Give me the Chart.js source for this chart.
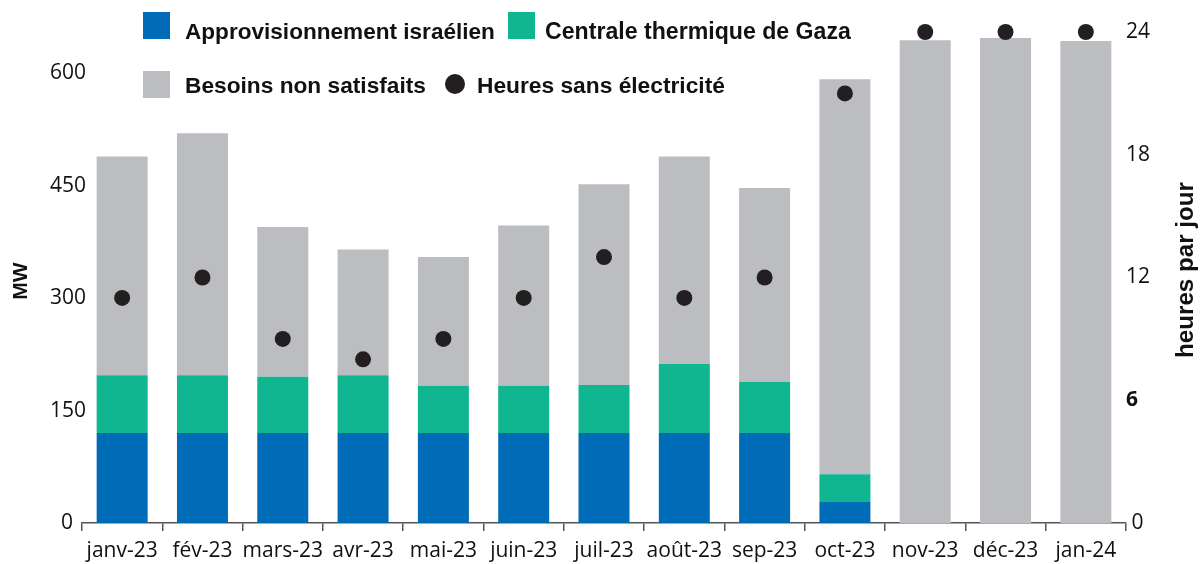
<!DOCTYPE html>
<html>
<head>
<meta charset="utf-8">
<script src="https://cdn.jsdelivr.net/npm/chart.js@4.4.1/dist/chart.umd.min.js"></script>
<style>
  html, body { margin: 0; padding: 0; background: #ffffff; }
  #wrap { width: 1200px; height: 564px; position: relative; }
</style>
</head>
<body>
<div id="wrap"><canvas id="c" width="1200" height="564"></canvas></div>
<script>
const categories = ['janv-23','fév-23','mars-23','avr-23','mai-23','juin-23','juil-23','août-23','sep-23','oct-23','nov-23','déc-23','jan-24'];
const israeliSupply = [120,120,120,120,120,120,120,120,120,28,0,0,0];
const gazaPlant = [77,77,75,77,63,63,64,92,68,37,0,0,0];
const unmetNeeds = [292,323,200,168,172,214,268,277,259,527,644,647,643];
const hoursWithoutPower = [11,12,9,8,9,11,13,11,12,21,24,24,24];
const mwTicks = [0,150,300,450,600];
const hourTicks = [0,6,12,18,24];
const seriesNames = ['Approvisionnement israélien','Centrale thermique de Gaza','Besoins non satisfaits','Heures sans électricité'];
const leftTitle = 'MW';
const rightTitle = 'heures par jour';

const BLUE = '#006bb6', TEAL = '#0fb690', GREY = '#bcbdc1', DOT = '#231f20';
const TICK_FONT = 'Open Sans';

function fitFont(ctx, text, weight, family, targetW) {
  ctx.font = weight + ' 20px "' + family + '"';
  const w = ctx.measureText(text).width;
  return weight + ' ' + (20 * targetW / w).toFixed(2) + 'px "' + family + '"';
}

const overlay = {
  id: 'overlay',
  afterDraw(chart) {
    const ctx = chart.ctx;
    ctx.save();
    const items = [
      {type:'sq', color: BLUE, x:143, y:12, tx:185, by:39, w:310, label: seriesNames[0]},
      {type:'sq', color: TEAL, x:508, y:12, tx:545, by:39, w:306, label: seriesNames[1]},
      {type:'sq', color: GREY, x:143, y:71, tx:185, by:93, w:241, label: seriesNames[2]},
      {type:'dot', color: DOT, x:455, y:84, tx:477, by:93, w:248, label: seriesNames[3]}
    ];
    items.forEach(it => {
      ctx.fillStyle = it.color;
      if (it.type === 'sq') { ctx.fillRect(it.x, it.y, 27, 27); }
      else { ctx.beginPath(); ctx.arc(it.x, it.y, 10, 0, Math.PI*2); ctx.fill(); }
      ctx.fillStyle = '#111111';
      ctx.font = fitFont(ctx, it.label, 'bold', 'Liberation Sans', it.w);
      ctx.textAlign = 'left';
      ctx.textBaseline = 'alphabetic';
      ctx.fillText(it.label, it.tx, it.by);
    });
    ctx.fillStyle = '#111111';
    ctx.textAlign = 'center';
    ctx.textBaseline = 'middle';
    ctx.save();
    ctx.translate(21, 281);
    ctx.rotate(-Math.PI/2);
    ctx.font = 'bold 21px "Liberation Sans"';
    ctx.fillText(leftTitle, 0, 0);
    ctx.restore();
    ctx.save();
    ctx.translate(1186, 270);
    ctx.rotate(-Math.PI/2);
    ctx.font = fitFont(ctx, rightTitle, 'bold', 'Liberation Sans', 176);
    ctx.fillText(rightTitle, 0, 0);
    ctx.restore();
    ctx.restore();
  }
};

new Chart(document.getElementById('c'), {
  type: 'bar',
  data: {
    labels: categories,
    datasets: [
      { type: 'line', label: seriesNames[3], data: hoursWithoutPower, yAxisID: 'y1', showLine: false, clip: false,
        pointRadius: 8, pointHoverRadius: 8, pointBackgroundColor: DOT, pointBorderWidth: 0, borderColor: DOT, order: 0 },
      { label: seriesNames[0], data: israeliSupply, backgroundColor: BLUE, yAxisID: 'y', order: 1,
        categoryPercentage: 1, barPercentage: 0.635 },
      { label: seriesNames[1], data: gazaPlant, backgroundColor: TEAL, yAxisID: 'y', order: 1,
        categoryPercentage: 1, barPercentage: 0.635 },
      { label: seriesNames[2], data: unmetNeeds, backgroundColor: GREY, yAxisID: 'y', order: 1,
        categoryPercentage: 1, barPercentage: 0.635 }
    ]
  },
  options: {
    responsive: false,
    animation: false,
    layout: { padding: { top: 32, left: 0, right: 0, bottom: 0 } },
    plugins: { legend: { display: false }, tooltip: { enabled: false } },
    scales: {
      x: {
        stacked: true,
        offset: true,
        grid: { offset: true, drawOnChartArea: false, drawTicks: true, tickLength: 8, color: '#555555', lineWidth: 1.5 },
        border: { color: '#555555', width: 1.5 },
        ticks: { font: { family: TICK_FONT, size: 21 }, color: '#111111', padding: 7, maxRotation: 0, autoSkip: false },
        afterFit(s) { s.height = 41; }
      },
      y: {
        stacked: true,
        position: 'left',
        min: 0, max: 655,
        afterBuildTicks(s) { s.ticks = mwTicks.map(v => ({ value: v })); },
        grid: { display: false, drawTicks: false },
        border: { display: false },
        ticks: { mirror: true, crossAlign: 'near', font: { family: TICK_FONT, size: 21 }, color: '#111111', padding: -32,
          callback: v => v === 0 ? '  0' : String(v) },
        afterFit(s) { s.width = 82; }
      },
      y1: {
        position: 'right',
        min: 0, max: 24,
        afterBuildTicks(s) { s.ticks = hourTicks.map(v => ({ value: v })); },
        grid: { display: false, drawTicks: false },
        border: { display: false },
        ticks: { color: '#111111', padding: 0,
          font: ctx => ({ family: TICK_FONT, size: 21, weight: (ctx.tick && ctx.tick.value === 6) ? 'bold' : 'normal' }),
          callback: v => v === 0 ? ' 0' : String(v) },
        afterFit(s) { s.width = 74; }
      }
    }
  },
  plugins: [overlay]
});
</script>
</body>
</html>
